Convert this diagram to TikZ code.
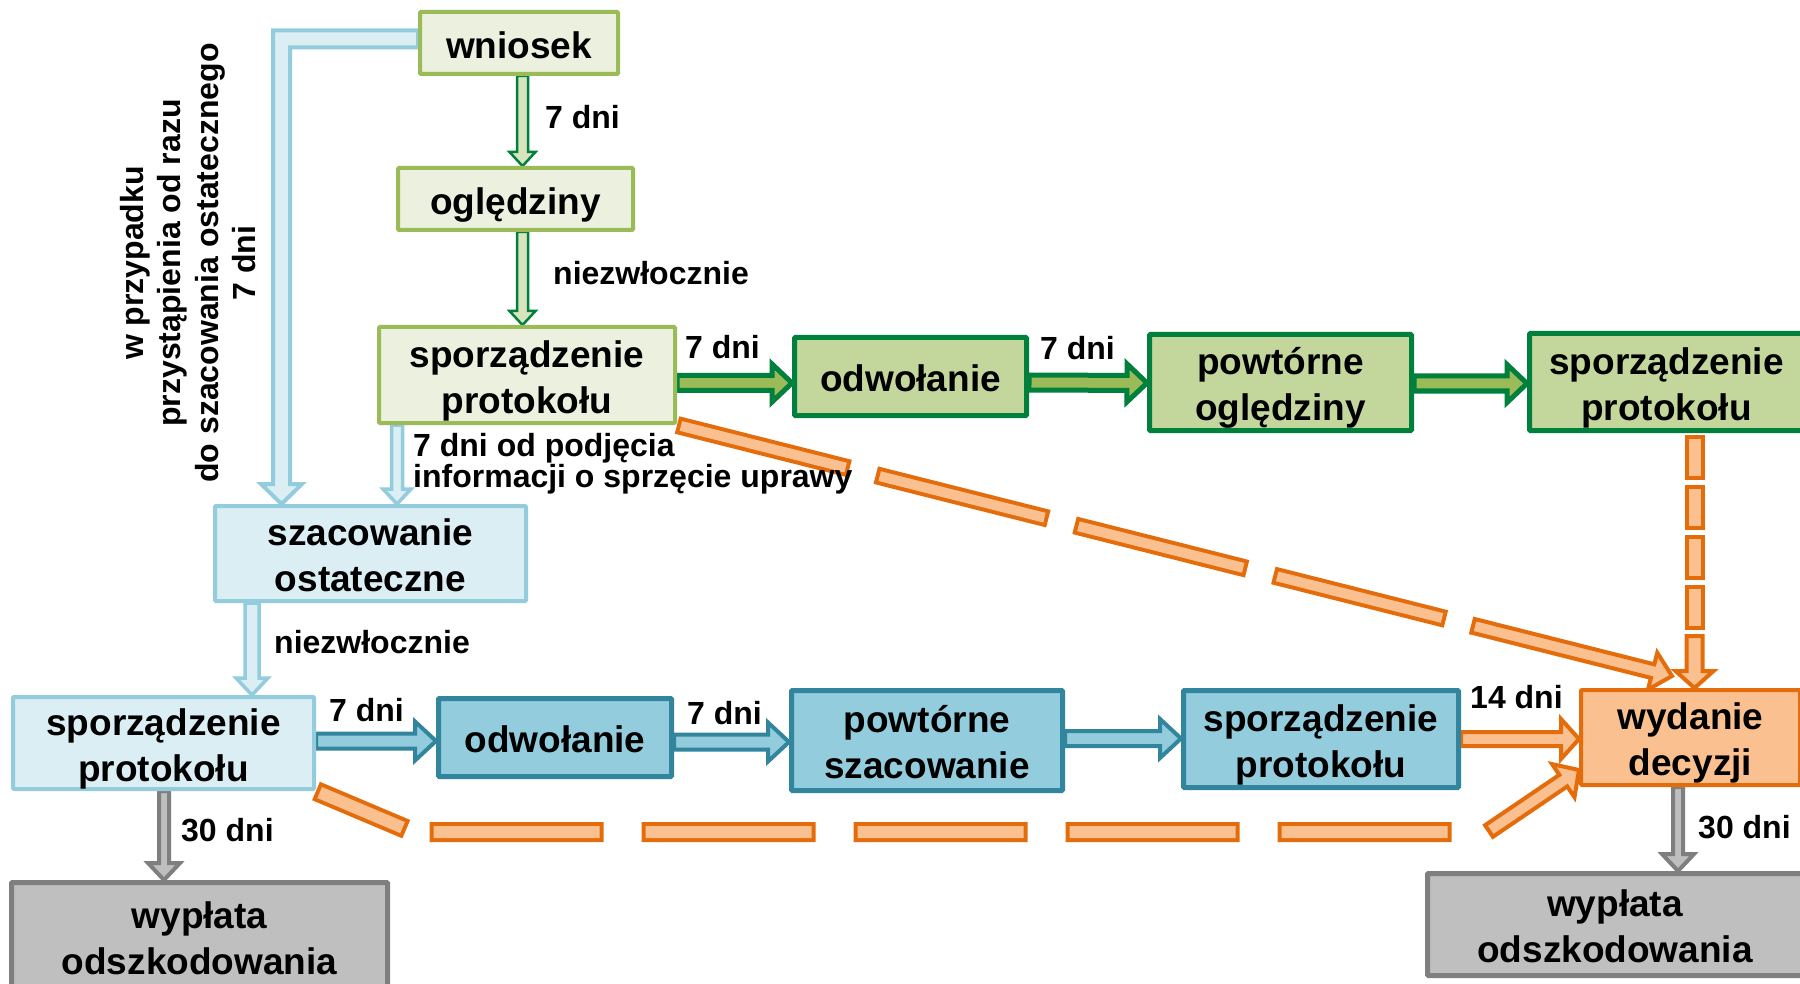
\documentclass[tikz,border=0pt]{standalone}
\usepackage{fontspec}
\setmainfont{Liberation Sans}
\usetikzlibrary{calc}
\pgfdeclarelayer{background}
\pgfsetlayers{background,main}

\definecolor{lgfill}{HTML}{EBF1DE}
\definecolor{lgline}{HTML}{9BBB59}
\definecolor{dgfill}{HTML}{C3D69B}
\definecolor{dgline}{HTML}{00803C}
\definecolor{garrfill}{HTML}{D7E4BD}
\definecolor{lbfill}{HTML}{DBEEF4}
\definecolor{lbline}{HTML}{93CDDD}
\definecolor{bfill}{HTML}{93CDDD}
\definecolor{bline}{HTML}{31859C}
\definecolor{ofill}{HTML}{FAC090}
\definecolor{oline}{HTML}{E46C0A}
\definecolor{gfill}{HTML}{BFBFBF}
\definecolor{gline}{HTML}{7F7F7F}

\newcommand{\boxfont}{\fontsize{37}{46}\selectfont\bfseries}
\newcommand{\lblfont}{\fontsize{32}{31}\selectfont\bfseries}
\newcommand{\boxstrut}{\rule[-7.8pt]{0pt}{46pt}}
\newcommand{\bx}[1]{\boxstrut#1\boxstrut}

% block arrow: [style]{from}{to}{half shaft}{half head}{head length}
\newcommand{\barrow}[6][]{%
  \coordinate (ba) at (#2);
  \coordinate (bb) at (#3);
  \coordinate (bn) at ($(bb)!#6!(ba)$);
  \draw[#1] ($(ba)!#4!90:(bb)$) -- ($(bn)!#4!90:(bb)$) -- ($(bn)!#5!90:(bb)$) -- (bb)
    -- ($(bn)!#5!-90:(bb)$) -- ($(bn)!#4!-90:(bb)$) -- ($(ba)!#4!-90:(bb)$) -- cycle;}

\tikzset{
  stage/.style={draw, rounded corners=1pt, align=center, font=\boxfont, inner sep=0pt},
  stageLG/.style={stage, fill=lgfill, draw=lgline, line width=4pt},
  stageDG/.style={stage, fill=dgfill, draw=dgline, line width=5pt},
  stageLB/.style={stage, fill=lbfill, draw=lbline, line width=4pt},
  stageB/.style={stage, fill=bfill, draw=bline, line width=5pt},
  stageO/.style={stage, fill=ofill, draw=oline, line width=4pt},
  stageG/.style={stage, fill=gfill, draw=gline, line width=5pt},
  lbl/.style={font=\lblfont, inner sep=0pt, anchor=west, align=left},
  garr/.style={fill=garrfill, draw=dgline, line width=2.5pt},
  ggarr/.style={fill=lgline, draw=dgline, line width=5pt},
  lbarr/.style={fill=lbfill, draw=lbline, line width=3.5pt},
  barr/.style={fill=bfill, draw=bline, line width=4pt},
  oarr/.style={fill=ofill, draw=oline, line width=4pt},
  grarr/.style={fill=gfill, draw=gline, line width=4pt},
  odout/.style={draw=oline},
  odin/.style={draw=ofill},
}

\begin{document}
\begin{tikzpicture}[x=1pt,y=-1pt]
\begin{pgfonlayer}{background}
\fill[white] (0,0) rectangle (1800,984);
\end{pgfonlayer}
\useasboundingbox (0,0) rectangle (1800,984);

% green path
\node[stageLG, minimum width=198pt, minimum height=62pt] (wn) at (519,43) {\bx{wniosek}};
\node[stageLG, minimum width=235pt, minimum height=62pt] (ogl) at (515.5,199) {\bx{oględziny}};
\node[stageLG, minimum width=296pt, minimum height=96pt] (p1) at (527,375) {\bx{sporządzenie\\protokołu}};
\node[stageDG, minimum width=232pt, minimum height=78pt] (odwG) at (910.5,376.5) {\bx{odwołanie}};
\node[stageDG, minimum width=262pt, minimum height=96pt] (powtG) at (1280.5,382.5) {\bx{powtórne\\oględziny}};
\node[stageDG, minimum width=274pt, minimum height=97pt] (protG) at (1666.5,382) {\bx{sporządzenie\\protokołu}};

% blue path
\node[stageLB, minimum width=311pt, minimum height=95pt] (szac) at (370.5,553.5) {\bx{szacowanie\\ostateczne}};
\node[stageLB, minimum width=301pt, minimum height=88pt] (protBL) at (163.5,743) {\bx{sporządzenie\\protokołu}};
\node[stageB, minimum width=233pt, minimum height=78pt] (odwB) at (555,737.5) {\bx{odwołanie}};
\node[stageB, minimum width=271pt, minimum height=100pt] (powtB) at (927,740.5) {\bx{powtórne\\szacowanie}};
\node[stageB, minimum width=275pt, minimum height=97pt] (protB) at (1321,739) {\bx{sporządzenie\\protokołu}};

% decision, payment
\node[stageO, minimum width=219pt, minimum height=95pt] (wyd) at (1690.5,737.5) {\bx{wydanie\\decyzji}};
\node[stageG, minimum width=376pt, minimum height=107pt] (wypL) at (199.5,936) {\bx{wypłata\\odszkodowania}};
\node[stageG, minimum width=375pt, minimum height=102pt] (wypR) at (1615,924.5) {\bx{wypłata\\odszkodowania}};

% labels
\node[lbl] (l1) at (545,117) {7 dni};
\node[lbl] (l2) at (553,273) {niezwłocznie};
\node[lbl] (l3) at (685,347) {7 dni};
\node[lbl] (l4) at (1040,348) {7 dni};
\node[lbl] (l5) at (413,464) {7 dni od podjęcia\\informacji o sprzęcie uprawy};
\node[lbl, anchor=center, align=center, rotate=90, font=\fontsize{32}{37.5}\selectfont\bfseries] (l6) at (188,263)
  {w przypadku\\przystąpienia od razu\\do szacowania ostatecznego\\7 dni};
\node[lbl] (l7) at (274,642) {niezwłocznie};
\node[lbl] (l8) at (329,710) {7 dni};
\node[lbl] (l9) at (687,713) {7 dni};
\node[lbl] (l10) at (1470,697) {14 dni};
\node[lbl] (l11) at (181,830) {30 dni};
\node[lbl] (l12) at (1698,827) {30 dni};

\begin{pgfonlayer}{background}
% green arrows
\barrow[garr]{$(wn.south)+(3.5,0)$}{$(ogl.north)+(7,0)$}{5.5pt}{13pt}{14pt}
\barrow[garr]{$(ogl.south)+(7,0)$}{$(p1.north)+(-4.5,0)$}{5.5pt}{13pt}{14pt}
\barrow[ggarr]{$(p1.east)+(0,8)$}{$(odwG.west)+(0,6.5)$}{7.5pt}{19pt}{20pt}
\barrow[ggarr]{$(odwG.east)+(0,6)$}{$(powtG.west)+(0,0.5)$}{7.5pt}{19pt}{20pt}
\barrow[ggarr]{$(powtG.east)+(0,1)$}{$(protG.west)+(0,1.5)$}{7.5pt}{19pt}{20pt}

% light blue arrows
\coordinate (ls) at ($(wn.west)+(0,-4)$);
\coordinate (le) at ($(szac.north)+(-89,0)$);
\draw[lbarr, line width=4pt] ($(ls)+(0,-8.5)$) -- ($(ls -| le)+(-8.5,-8.5)$) -- ($(le)+(-8.5,-20)$)
  -- ($(le)+(-20.5,-20)$) -- (le) -- ($(le)+(20.5,-20)$) -- ($(le)+(8.5,-20)$)
  -- ($(ls -| le)+(8.5,8.5)$) -- ($(ls)+(0,8.5)$) -- cycle;
\barrow[lbarr]{$(p1.south)+(-130,0)$}{$(szac.north)+(26.5,0)$}{5.5pt}{14pt}{15pt}
\barrow[lbarr]{$(szac.south)+(-118.5,0)$}{$(protBL.north)+(88.5,0)$}{7pt}{16pt}{17pt}

% blue arrows
\barrow[barr]{$(protBL.east)+(0,-2)$}{$(odwB.west)+(0,3.5)$}{7.5pt}{19.5pt}{21pt}
\barrow[barr]{$(odwB.east)+(0,4.5)$}{$(powtB.west)+(0,1.5)$}{7.5pt}{19.5pt}{21pt}
\barrow[barr]{$(powtB.east)+(0,-2)$}{$(protB.west)+(0,-0.5)$}{7.5pt}{19.5pt}{21pt}

% orange and grey arrows
\barrow[oarr]{protB.east}{$(wyd.west)+(0,1.5)$}{7pt}{20pt}{18pt}
\barrow[grarr]{$(wyd.south)+(-12.5,0)$}{$(wypR.north)+(63,0)$}{5pt}{16pt}{17pt}
\barrow[grarr]{$(protBL.south)+(0.5,0)$}{$(wypL.north)+(-35.5,0)$}{5pt}{16pt}{17pt}

% dashed: protokol -> decyzja (vertical)
\coordinate (vs) at ($(protG.south)+(28,2)$);
\coordinate (vt) at ($(wyd.north)+(4,0)$);
\coordinate (vh) at ($(vt)+(0,-52)$);
\draw[odout, line width=20pt, dash pattern=on 45pt off 5pt] (vs) -- ($(vh)+(0,-5)$);
\draw[odin, line width=12pt, dash pattern=on 37pt off 13pt, dash phase=46pt] (vs) -- ($(vh)+(0,-5)$);
\barrow[oarr]{vh}{vt}{8pt}{19pt}{17pt}

% dashed: protokol -> decyzja (diagonal)
\coordinate (ds) at (p1.south east);
\coordinate (dt) at ($(wyd.north)+(-18.5,-12)$);
\coordinate (dh) at ($(ds)!0.8!(dt)$);
\draw[odout, line width=18pt, dash pattern=on 178pt off 27pt] (ds) -- (dh);
\draw[odin, line width=10pt, dash pattern=on 170pt off 35pt, dash phase=201pt] (ds) -- (dh);
\barrow[oarr]{dh}{dt}{7pt}{19pt}{20pt}

% dashed: protokol (bottom) -> decyzja
\coordinate (bs) at (protBL.south east);
\coordinate (bc1) at ($(bs)+(97,41)$);
\coordinate (bc2) at ($(bc1)+(1050,0)$);
\coordinate (bt) at ($(wyd.south west)+(0,-17)$);
\coordinate (bh) at ($(bt)+(-90,61)$);
\draw[odout, line width=20pt, dash pattern=on 98pt off 24pt on 174pt off 38pt on 174pt off 38pt on 174pt off 38pt on 174pt off 38pt on 174pt off 100pt]
  (bs) -- (bc1) -- (bc2);
\draw[odin, line width=12pt, dash pattern=on 90pt off 32pt on 166pt off 46pt on 166pt off 46pt on 166pt off 46pt on 166pt off 46pt on 166pt off 108pt, dash phase=1240pt]
  (bs) -- (bc1) -- (bc2);
\barrow[oarr]{bh}{bt}{7pt}{20pt}{19pt}
\end{pgfonlayer}
\end{tikzpicture}
\end{document}
